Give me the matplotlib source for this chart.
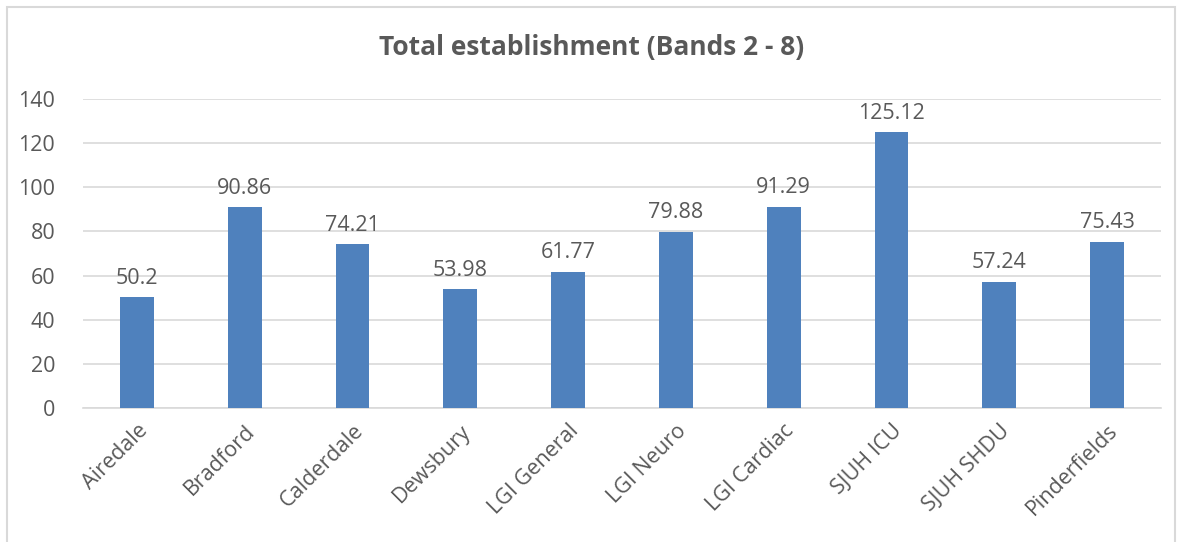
import matplotlib.pyplot as plt
from matplotlib.patches import Rectangle
import numpy as np

plt.rcParams['font.family'] = ['Open Sans', 'DejaVu Sans']

wards = ["Airedale", "Bradford", "Calderdale", "Dewsbury", "LGI General",
         "LGI Neuro", "LGI Cardiac", "SJUH ICU", "SJUH SHDU", "Pinderfields"]
establishment = [50.2, 90.86, 74.21, 53.98, 61.77, 79.88, 91.29, 125.12, 57.24, 75.43]
value_labels = ["50.2", "90.86", "74.21", "53.98", "61.77", "79.88", "91.29", "125.12", "57.24", "75.43"]
y_ticks = [0, 20, 40, 60, 80, 100, 120, 140]

text_col = "#595959"
grid_col = "#D9D9D9"

fig = plt.figure(figsize=(11.83, 5.42), dpi=100)
ax = fig.add_axes([83 / 1183, 1 - 408 / 542, (1161 - 83) / 1183, (408 - 99) / 542])

x = np.arange(len(wards))
ax.bar(x, establishment, width=0.315, color="#4F81BD", zorder=3)
for xi, v, lab in zip(x, establishment, value_labels):
    ax.annotate(lab, (xi, v), xytext=(0, 6), textcoords="offset points",
                ha="center", va="bottom", fontsize=15.5, color=text_col)

ax.set_xlim(-0.5, len(wards) - 0.5)
ax.set_ylim(0, 140)
ax.set_yticks(y_ticks)
ax.yaxis.grid(True, color=grid_col, linewidth=1.2, zorder=0)
ax.set_xticks(x)
ax.set_xticklabels(wards, rotation=45, ha="right", rotation_mode="anchor")
ax.tick_params(axis="both", length=0, labelsize=15.5, labelcolor=text_col)
ax.tick_params(axis="y", pad=20)
ax.tick_params(axis="x", pad=9)
for side in ["top", "right", "left"]:
    ax.spines[side].set_visible(False)
ax.spines["bottom"].set_color(grid_col)
ax.spines["bottom"].set_linewidth(1.2)

fig.text(0.5, 1 - 48 / 542, "Total establishment (Bands 2 - 8)", ha="center", va="center",
         fontsize=19, fontweight="bold", color=text_col)

# chart border
fig.patches.append(Rectangle((7 / 1183, -0.05), 1168 / 1183, 1.05 - 7 / 542,
                             transform=fig.transFigure, fill=False,
                             edgecolor=grid_col, linewidth=1.5))

fig.savefig("out.png", dpi=100)
